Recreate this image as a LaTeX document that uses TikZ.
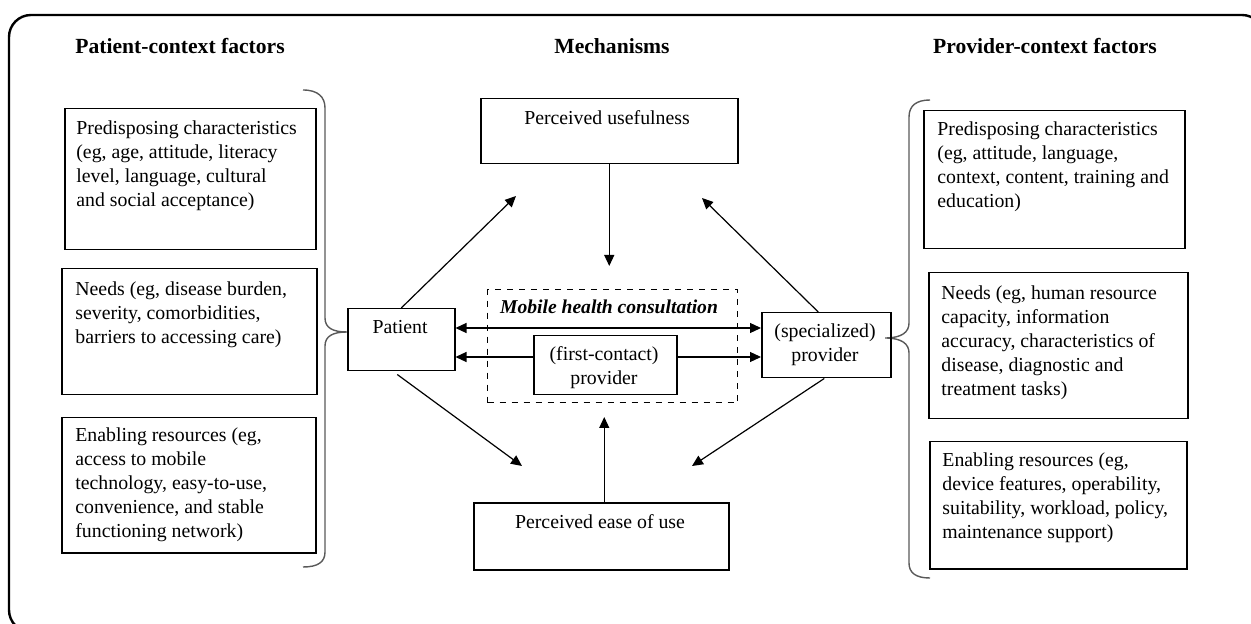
\documentclass[tikz,border=0pt]{standalone}
\usepackage{fontspec}
\setmainfont{Liberation Serif}
\usetikzlibrary{arrows.meta,calc}
\begin{document}
\begin{tikzpicture}[x=0.5pt,y=-0.5pt,
  box/.style 2 args={draw,line width=0.75pt,minimum width=#1*0.5pt,minimum height=#2*0.5pt,inner sep=0pt,anchor=north west},
  body/.style={align=left,inner sep=0pt,anchor=north west,font=\fontsize{9.9}{12.1}\selectfont},
  ctext/.style={align=center,inner sep=0pt,font=\fontsize{9.9}{12}\selectfont},
  title/.style={inner sep=0pt,font=\fontsize{10.8}{13}\selectfont\bfseries},
  arr/.style={line width=0.6pt,-{Triangle[length=5.5pt,width=5pt]}},
  dbl/.style={line width=0.6pt,{Triangle[length=5.5pt,width=5pt]}-{Triangle[length=5.5pt,width=5pt]}},
  brace/.style={line width=0.7pt,draw=black!65}]
\useasboundingbox (0,0) rectangle (1251,624);
\clip (0,0) rectangle (1251,624);
\draw[line width=1.2pt,rounded corners=11pt] (9,15) rectangle (1264,632);

% titles
\node[title] (t1) at (180,46) {Patient-context factors};
\node[title] (t2) at (612,46) {Mechanisms};
\node[title] (t3) at (1045,46) {Provider-context factors};

% left boxes
\node[box={251}{141}] (lb1) at (64,108) {};
\node[body] (lt1) at (76,120) {Predisposing characteristics\\(eg, age, attitude, literacy\\level, language, cultural\\and social acceptance)};
\node[box={255}{126}] (lb2) at (61,268) {};
\node[body] (lt2) at (75,281) {Needs (eg, disease burden,\\severity, comorbidities,\\barriers to accessing care)};
\node[box={254}{135}] (lb3) at (61,417) {};
\node[body] (lt3) at (75,427) {Enabling resources (eg,\\access to mobile\\technology, easy-to-use,\\convenience, and stable\\functioning network)};

% right boxes
\node[box={261}{138}] (rb1) at (923,110) {};
\node[body] (rt1) at (937,121) {Predisposing characteristics\\(eg, attitude, language,\\context, content, training and\\education)};
\node[box={259}{146}] (rb2) at (928,272) {};
\node[body] (rt2) at (941,285) {Needs (eg, human resource\\capacity, information\\accuracy, characteristics of\\disease, diagnostic and\\treatment tasks)};
\node[box={257}{127}] (rb3) at (929,441) {};
\node[body] (rt3) at (942,452) {Enabling resources (eg,\\device features, operability,\\suitability, workload, policy,\\maintenance support)};

% braces
\draw[brace] (303,90) .. controls (318,90) and (325,97) .. (325,108) -- (325,318)
  .. controls (325,328) and (333,332) .. (347,332)
  .. controls (333,332) and (325,336) .. (325,346) -- (325,552)
  .. controls (325,562) and (318,567) .. (303,567);
\draw[brace] (930,100) .. controls (916,100) and (909,106) .. (909,117) -- (909,323)
  .. controls (909,332) and (902,338) .. (885,338)
  .. controls (902,338) and (909,344) .. (909,353) -- (909,563)
  .. controls (909,573) and (916,578) .. (930,578);

% mechanisms
\node[box={257}{65}] (pu) at (480,98) {};
\node[ctext] (put) at (607,118) {Perceived usefulness};
\node[box={255}{67}] (pe) at (473,502) {};
\node[ctext] (pet) at (600,522) {Perceived ease of use};
\node[draw,dashed,line width=0.6pt,minimum width=125pt,minimum height=56.5pt,inner sep=0pt,anchor=north west] (mhc) at (487,289) {};
\node[inner sep=0pt,font=\fontsize{9.8}{12}\selectfont\bfseries\itshape] (mhct) at (609,307) {Mobile health consultation};
\node[box={107}{62}] (pat) at (347,308) {};
\node[ctext] (patt) at (400,327) {Patient};
\node[box={143}{59},fill=white] (fc) at (533,335) {};
\node[ctext] (fct) at (604,368) {(first-contact)\\provider};
\node[box={129}{65}] (sp) at (761,312) {};
\node[ctext] (spt) at (825,345) {(specialized)\\provider};

\coordinate (r1) at (0,328);
\coordinate (r2) at (0,357);
\coordinate (ua) at (516,196);
\coordinate (ub) at (702,198);
\coordinate (ea) at (522,466);
\coordinate (eb) at (692,466);
\coordinate (md) at (0,266);
\coordinate (mu) at (0,417);

\draw[dbl] (pat.east |- r1) -- (sp.west |- r1);
\draw[arr] (fc.west |- r2) -- (pat.east |- r2);
\draw[arr] (fc.east |- r2) -- (sp.west |- r2);
\draw[arr] (pu.south) -- (pu.south |- md);
\draw[arr] ($(pe.north)+(3,0)$) -- ($(pe.north |- mu)+(3,0)$);
\draw[arr] (pat.north) -- (ua);
\draw[arr] ($(sp.north)+(-8,0)$) -- (ub);
\draw[arr] ($(pat.south)+(-4,3)$) -- (ea);
\draw[arr] ($(sp.south)+(-2,0)$) -- (eb);
\end{tikzpicture}
\end{document}
